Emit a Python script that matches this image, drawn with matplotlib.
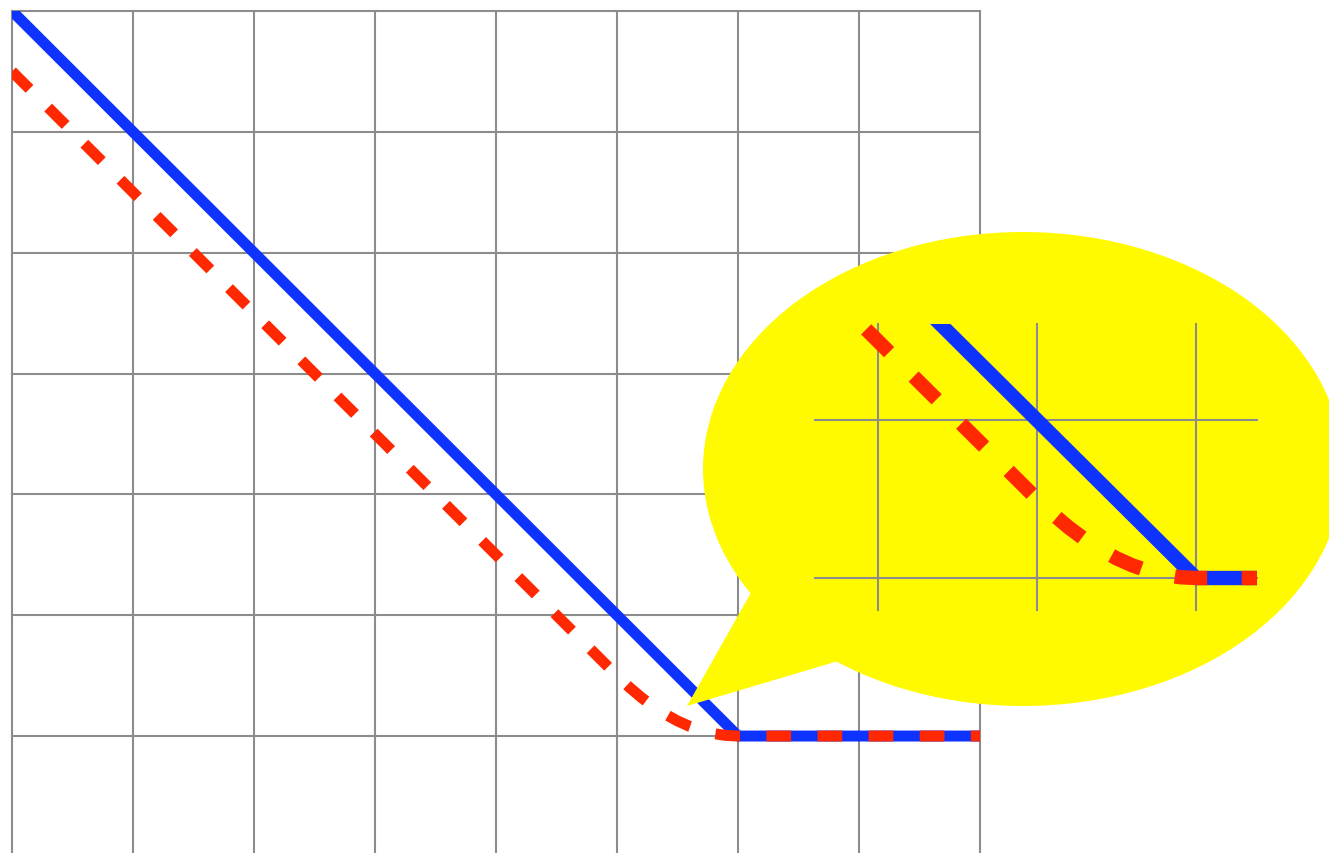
import matplotlib.pyplot as plt
from matplotlib.patches import Ellipse, Polygon

# hinge loss (solid) and smoothed hinge (dashed)
x_hinge = [0, 6, 8]
y_hinge = [6, 0, 0]

x_smooth = [0, 5, 5.1, 5.2, 5.3, 5.4, 5.5, 5.6, 5.7, 5.8, 5.9, 6, 8]
y_smooth = [5.5, 0.5, 0.405, 0.32, 0.245, 0.18, 0.125, 0.08, 0.045, 0.02, 0.005, 0, 0]

main_xticks = [0, 1, 2, 3, 4, 5, 6, 7, 8]
main_yticks = [0, 1, 2, 3, 4, 5, 6]
zoom_xticks = [4, 5, 6]
zoom_yticks = [0, 1]

W, H = 1329, 854
blue = '#0f33ff'
red = '#ff2800'
grid_c = '#8c8c8c'
yellow = '#fffa00'


def px(x, y):
    # pixel (top-left origin) -> figure fraction
    return (x / W, (H - y) / H)


def draw(ax, xt, yt, scale):
    ax.plot(x_hinge, y_hinge, color=blue, lw=7.9 * scale, zorder=3,
            solid_capstyle='butt')
    ax.plot(x_smooth, y_smooth, color=red, lw=7.9 * scale, zorder=4,
            dashes=(17.8 * scale, 19.0 * scale), dash_capstyle='butt')
    ax.set_xticks(xt)
    ax.set_yticks(yt)
    ax.grid(True, color=grid_c, lw=1.5)
    ax.tick_params(length=0, labelbottom=False, labelleft=False)
    for s in ax.spines.values():
        s.set_visible(False)
    for gl in ax.get_xgridlines() + ax.get_ygridlines():
        gl.set_clip_on(False)
    ax.set_axisbelow(True)


plt.rcParams['lines.scale_dashes'] = False
fig = plt.figure(figsize=(W / 100, H / 100), dpi=100)

ax = fig.add_axes([12 / W, 0, 968 / W, 842 / H])
draw(ax, main_xticks, main_yticks, 1.0)
ax.set_xlim(0, 8)
ax.set_ylim(-0.968, 6)

# speech bubble
cx, cy = px(1023, 470)
bubble = Ellipse((cx, cy), 640 / W, 474 / H, transform=fig.transFigure,
                 color=yellow, zorder=1, lw=0)
tail = Polygon([px(770, 560), px(687, 707), px(865, 654), px(900, 600)],
               closed=True, transform=fig.transFigure, color=yellow,
               zorder=1, lw=0)
fig.add_artist(bubble)
fig.add_artist(tail)

# zoomed inset
l, b = px(815, 611)
axz = fig.add_axes([l, b, 442 / W, 286 / H])
axz.set_zorder(2)
axz.patch.set_visible(False)
draw(axz, zoom_xticks, zoom_yticks, 1.31)
axz.set_xlim(3.604, 6.384)
axz.set_ylim(-0.2025, 1.608)

fig.savefig('out.png', dpi=100)
